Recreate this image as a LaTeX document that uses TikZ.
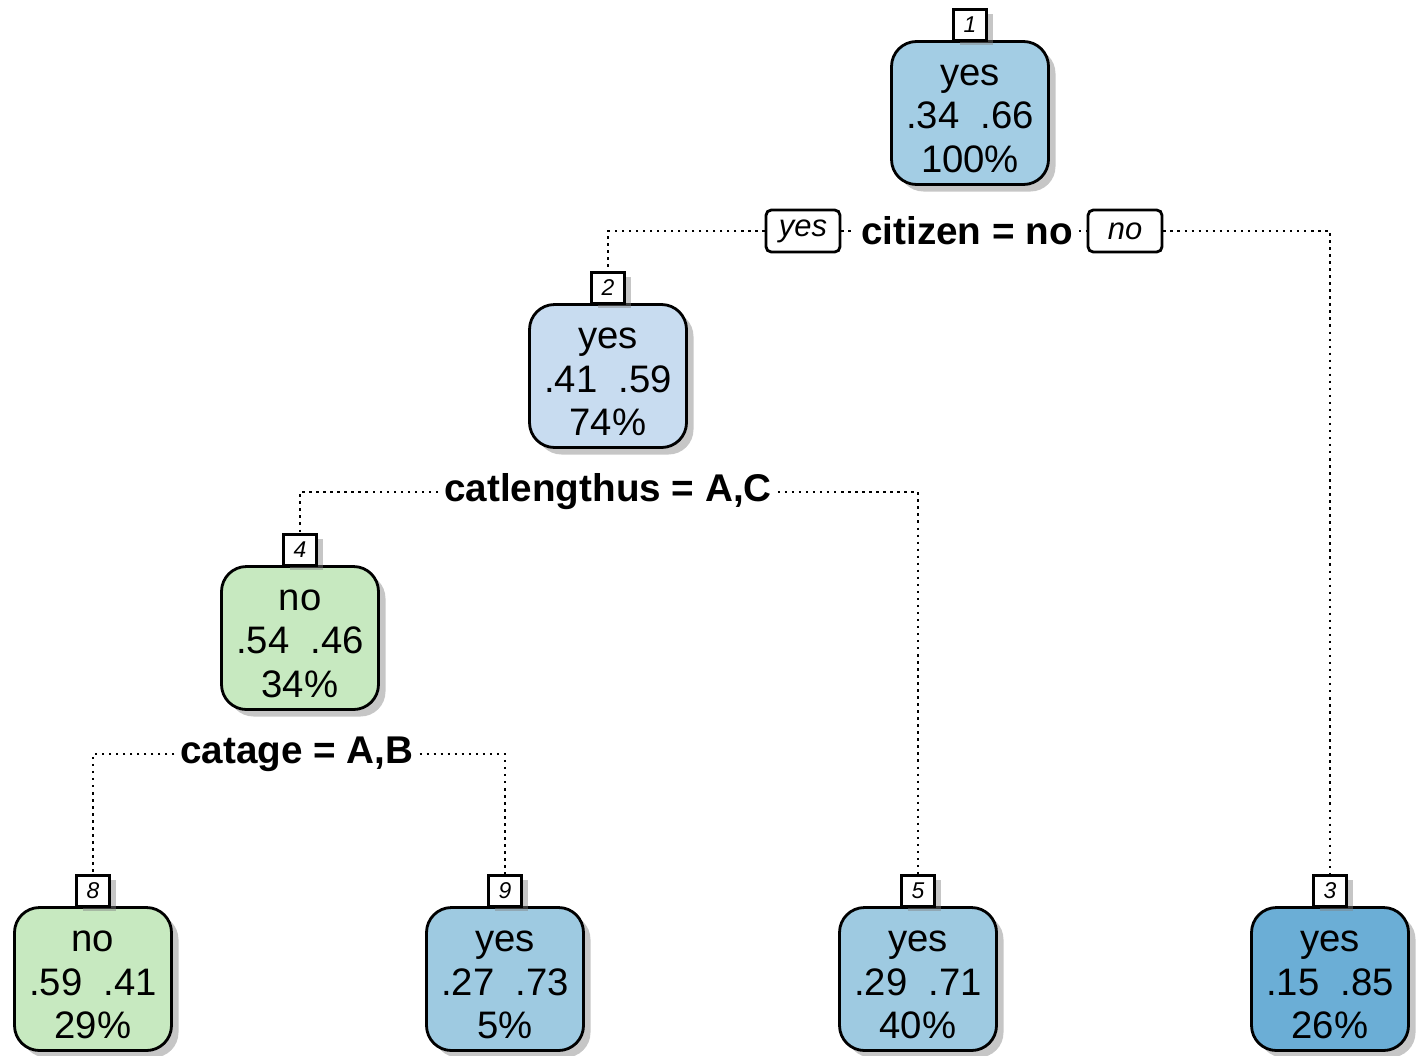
\documentclass[tikz,border=0pt]{standalone}
\usepackage{fontspec}
\setmainfont{Liberation Sans}
\usepackage{xcolor}
\usetikzlibrary{shadows,positioning}

\definecolor{blueA}{RGB}{163,205,228}
\definecolor{blueB}{RGB}{200,220,240}
\definecolor{blueC}{RGB}{158,202,225}
\definecolor{blueD}{RGB}{107,174,214}
\definecolor{greenA}{RGB}{199,233,192}

\newcommand{\leafstrut}{\rule{0pt}{9.2pt}}

\begin{document}
\begin{tikzpicture}
            \tikzstyle{leaf}=[draw, line width=0.8pt, rounded corners=0.25cm, minimum width=1.57cm, minimum height=1.43cm, inner sep=0pt, align=center, font=\fontsize{10.9}{12.3}\selectfont, drop shadow={shadow xshift=0.07cm, shadow yshift=-0.07cm, fill=gray, opacity=0.45}];
            \tikzstyle{tag}=[draw, line width=0.6pt, fill=white, minimum width=0.33cm, minimum height=0.31cm, inner sep=0pt, font=\fontsize{6.5}{7}\selectfont\itshape, drop shadow={shadow xshift=0.06cm, shadow yshift=-0.05cm, fill=gray, opacity=0.45}];
            \tikzstyle{split}=[fill=white, inner sep=1.5pt, font=\fontsize{11}{12}\selectfont\bfseries];
            \tikzstyle{side}=[draw, line width=0.8pt, fill=white, rounded corners=1.5pt, minimum width=0.74cm, minimum height=0.42cm, inner sep=0pt, font=\fontsize{8.8}{10}\selectfont\itshape];
            \tikzstyle{branch}=[line width=0.7pt, dash pattern=on 0.7pt off 1.3pt];

            % page frame
            \useasboundingbox (0,0) rectangle (14.24,10.55);

            % tree nodes
            \node[leaf, fill=blueA] (n1) at (9.70,9.42) {\leafstrut yes\\.34\ \ .66\\100\%};
            \node[leaf, fill=blueB] (n2) at (6.08,6.79) {\leafstrut yes\\.41\ \ .59\\74\%};
            \node[leaf, fill=greenA] (n4) at (3.00,4.17) {\leafstrut no\\.54\ \ .46\\34\%};
            \node[leaf, fill=greenA] (n8) at (0.93,0.76) {\leafstrut no\\.59\ \ .41\\29\%};
            \node[leaf, fill=blueC] (n9) at (5.05,0.76) {\leafstrut yes\\.27\ \ .73\\5\%};
            \node[leaf, fill=blueC] (n5) at (9.18,0.76) {\leafstrut yes\\.29\ \ .71\\40\%};
            \node[leaf, fill=blueD] (n3) at (13.30,0.76) {\leafstrut yes\\.15\ \ .85\\26\%};

            % node numbers
            \node[tag, above=-0.4pt of n1] (t1) {1};
            \node[tag, above=-0.4pt of n2] (t2) {2};
            \node[tag, above=-0.4pt of n4] (t4) {4};
            \node[tag, above=-0.4pt of n8] (t8) {8};
            \node[tag, above=-0.4pt of n9] (t9) {9};
            \node[tag, above=-0.4pt of n5] (t5) {5};
            \node[tag, above=-0.4pt of n3] (t3) {3};

            % split labels
            \node[split] (s1) at (9.67,8.24) {citizen = no};
            \node[side] (yes1) at (8.03,8.24) {yes};
            \node[side] (no1) at (11.25,8.24) {no};
            \node[split] (s2) at (6.08,5.63) {catlengthus = A,C};
            \node[split] (s4) at (2.97,3.01) {catage = A,B};

            % branches
            \draw[branch] (yes1.west) -| (t2.north);
            \draw[branch] (yes1.east) -- (s1.west);
            \draw[branch] (s1.east) -- (no1.west);
            \draw[branch] (no1.east) -| (t3.north);
            \draw[branch] (s2.west) -| (t4.north);
            \draw[branch] (s2.east) -| (t5.north);
            \draw[branch] (s4.west) -| (t8.north);
            \draw[branch] (s4.east) -| (t9.north);
        \end{tikzpicture}
\end{document}
